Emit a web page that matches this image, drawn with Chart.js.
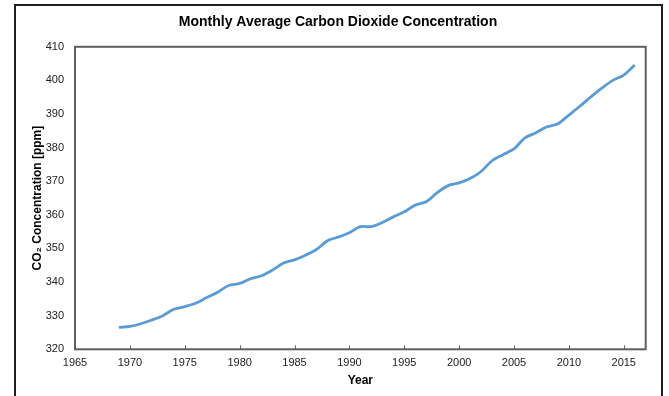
<!DOCTYPE html>
<html>
<head>
<meta charset="utf-8">
<script src="https://cdn.jsdelivr.net/npm/chart.js@4.4.0/dist/chart.umd.min.js"></script>
<style>
  html, body { margin: 0; padding: 0; background: #fff; }
  #wrap { position: relative; width: 669px; height: 396px; overflow: hidden; }
  #frame { position: absolute; left: 14px; top: 4px; width: 645px; height: 420px; border: 2px solid #1e1e1e; pointer-events: none; }
</style>
</head>
<body>
<div id="wrap">
  <canvas id="co2Chart" width="669" height="396"></canvas>
  <div id="frame"></div>
</div>
<script>
// Annual values
const years = [1969, 1970, 1971, 1972, 1973, 1974, 1975, 1976, 1977, 1978,
  1979, 1980, 1981, 1982, 1983, 1984, 1985, 1986, 1987, 1988,
  1989, 1990, 1991, 1992, 1993, 1994, 1995, 1996, 1997, 1998,
  1999, 2000, 2001, 2002, 2003, 2004, 2005, 2006, 2007, 2008,
  2009, 2010, 2011, 2012, 2013, 2014, 2015, 2016];
const co2 = [326.5, 326.8, 327.6, 328.7, 330.0, 331.9, 332.7, 333.7, 335.4, 337.0,
  339.0, 339.6, 341.0, 341.9, 343.6, 345.7, 346.6, 348.0, 349.7, 352.3,
  353.4, 354.7, 356.5, 356.5, 357.7, 359.4, 360.9, 362.9, 363.9, 366.6,
  368.7, 369.5, 370.8, 372.9, 376.1, 377.9, 379.6, 382.9, 384.4, 386.2,
  387.1, 389.7, 392.3, 395.1, 397.7, 400.0, 401.6, 404.6];
const xTicks = [1965, 1970, 1975, 1980, 1985, 1990, 1995, 2000, 2005, 2010, 2015];
const xRange = [1965, 2017];
const yRange = [320, 410];

const axisColor = '#5f5f5f';

// Cadre du graphique + petites graduations vers l'intérieur sur l'axe X
const plotBox = {
  id: 'plotBox',
  afterDatasetsDraw(chart) {
    const { ctx, chartArea: a, scales } = chart;
    ctx.save();
    ctx.strokeStyle = axisColor;
    ctx.lineWidth = 2;
    ctx.strokeRect(a.left, a.top, a.right - a.left, a.bottom - a.top);
    ctx.lineWidth = 1;
    scales.x.ticks.forEach(t => {
      const px = Math.round(scales.x.getPixelForValue(t.value)) + 0.5;
      ctx.beginPath();
      ctx.moveTo(px, a.bottom);
      ctx.lineTo(px, a.bottom - 4);
      ctx.stroke();
    });
    ctx.restore();
  }
};

const ctx = document.getElementById('co2Chart').getContext('2d');
new Chart(ctx, {
  type: 'line',
  data: {
    datasets: [{
      data: years.map((y, i) => ({ x: y, y: co2[i] })),
      borderColor: '#5b9bd5',
      borderWidth: 2.8,
      pointRadius: 0,
      tension: 0.3,
      fill: false
    }]
  },
  options: {
    responsive: false,
    animation: false,
    layout: { padding: { left: 14, right: 7, top: 0, bottom: 0 } },
    plugins: {
      legend: { display: false },
      tooltip: { enabled: false },
      title: {
        display: true,
        text: 'Monthly Average Carbon Dioxide Concentration',
        color: '#000',
        font: { family: 'Liberation Sans, Arial, sans-serif', size: 14, weight: 'bold' },
        padding: { top: 14, bottom: 16 }
      }
    },
    scales: {
      x: {
        type: 'linear',
        min: xRange[0],
        max: xRange[1],
        ticks: {
          color: '#222',
          padding: 7,
          font: { family: 'Liberation Sans, Arial, sans-serif', size: 11 },
          callback: v => String(v)
        },
        afterBuildTicks: scale => {
          scale.ticks = xTicks.map(v => ({ value: v }));
        },
        afterFit: scale => { scale.height = 46.7; },
        grid: { display: false, drawTicks: false },
        border: { display: false },
        title: {
          display: true,
          text: 'Year',
          color: '#000',
          font: { family: 'Liberation Sans, Arial, sans-serif', size: 12, weight: 'bold' },
          padding: { top: 0, bottom: 8 }
        }
      },
      y: {
        min: yRange[0],
        max: yRange[1],
        ticks: {
          stepSize: 10,
          color: '#222',
          padding: 11,
          font: { family: 'Liberation Sans, Arial, sans-serif', size: 11 }
        },
        afterFit: scale => { scale.width = 61; },
        grid: { display: false, drawTicks: false },
        border: { display: false },
        title: {
          display: true,
          text: 'CO₂ Concentration [ppm]',
          color: '#000',
          font: { family: 'Liberation Sans, Arial, sans-serif', size: 12, weight: 'bold' },
          padding: { top: 16, bottom: 0 }
        }
      },
      yRight: {
        position: 'right',
        min: yRange[0],
        max: yRange[1],
        ticks: { display: false },
        grid: { display: false, drawTicks: false },
        border: { display: false },
        afterFit: scale => { scale.width = 16.3; }
      }
    }
  },
  plugins: [plotBox]
});
</script>
</body>
</html>
